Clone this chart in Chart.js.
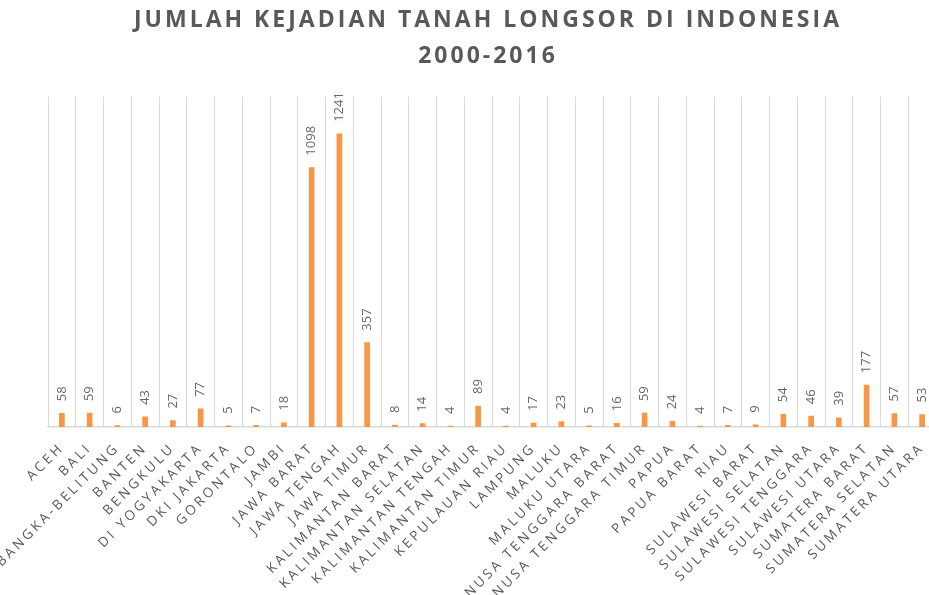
<!DOCTYPE html>
<html>
<head>
<meta charset="utf-8">
<script src="https://cdn.jsdelivr.net/npm/chart.js@4.4.0/dist/chart.umd.min.js"></script>
<style>
  html, body { margin: 0; padding: 0; background: #fff; overflow: hidden; }
  #wrap { width: 976px; height: 595px; }
</style>
</head>
<body>
<div id="wrap"><canvas id="myChart" width="976" height="595"></canvas></div>
<script>
// data
const provinces = ['ACEH', 'BALI', 'BANGKA-BELITUNG', 'BANTEN', 'BENGKULU', 'DI YOGYAKARTA', 'DKI JAKARTA',
  'GORONTALO', 'JAMBI', 'JAWA BARAT', 'JAWA TENGAH', 'JAWA TIMUR', 'KALIMANTAN BARAT', 'KALIMANTAN SELATAN',
  'KALIMANTAN TENGAH', 'KALIMANTAN TIMUR', 'KEPULAUAN RIAU', 'LAMPUNG', 'MALUKU', 'MALUKU UTARA',
  'NUSA TENGGARA BARAT', 'NUSA TENGGARA TIMUR', 'PAPUA', 'PAPUA BARAT', 'RIAU', 'SULAWESI BARAT',
  'SULAWESI SELATAN', 'SULAWESI TENGGARA', 'SULAWESI UTARA', 'SUMATERA BARAT', 'SUMATERA SELATAN', 'SUMATERA UTARA'];
const kejadian = [58, 59, 6, 43, 27, 77, 5, 7, 18, 1098, 1241, 357, 8, 14, 4, 89, 4, 17, 23, 5, 16, 59, 24, 4, 7, 9,
  54, 46, 39, 177, 57, 53];
const titleLines = ['JUMLAH KEJADIAN TANAH LONGSOR DI INDONESIA', '2000-2016'];

Chart.defaults.font.family = '"Open Sans", sans-serif';
Chart.defaults.color = '#595959';

// wide tracking like the original
const spacing = {
  id: 'spacing',
  beforeDraw(chart) {
    chart.ctx.letterSpacing = '3px';
  }
};

// value labels above each bar, turned upright
const barLabels = {
  id: 'barLabels',
  afterDatasetsDraw(chart) {
    const ctx = chart.ctx;
    const meta = chart.getDatasetMeta(0);
    ctx.save();
    ctx.letterSpacing = '0px';
    ctx.font = '13px "Open Sans"';
    ctx.fillStyle = '#666666';
    ctx.textAlign = 'left';
    ctx.textBaseline = 'middle';
    meta.data.forEach((bar, i) => {
      ctx.save();
      ctx.translate(bar.x, bar.y - 12);
      ctx.rotate(-Math.PI / 2);
      ctx.fillText(String(kejadian[i]), 0, 0);
      ctx.restore();
    });
    ctx.restore();
  }
};

const ctx = document.getElementById('myChart');
new Chart(ctx, {
  type: 'bar',
  data: {
    labels: provinces,
    datasets: [{
      label: 'Jumlah kejadian',
      data: kejadian,
      backgroundColor: '#F79646',
      barThickness: 5
    }]
  },
  options: {
    responsive: false,
    animation: false,
    plugins: {
      legend: { display: false },
      tooltip: { enabled: false },
      title: {
        display: true,
        text: titleLines,
        color: '#595959',
        font: { size: 23, weight: 'bold', lineHeight: 1.55 },
        padding: { top: 3, bottom: 22 }
      }
    },
    scales: {
      x: {
        grid: { color: '#d9d9d9', lineWidth: 1, drawTicks: false, offset: true },
        border: { color: '#d9d9d9', width: 1.5 },
        ticks: {
          autoSkip: false,
          minRotation: 45,
          maxRotation: 45,
          padding: 13,
          labelOffset: 0,
          color: '#595959',
          font: { size: 13.5 }
        },
        afterFit: s => { s.height = 168; }
      },
      y: {
        min: 0,
        max: 1400,
        ticks: { display: false },
        grid: { display: false },
        border: { display: false },
        afterFit: s => { s.width = 48; }
      },
      y2: {
        position: 'right',
        ticks: { display: false },
        grid: { display: false },
        border: { display: false },
        afterFit: s => { s.width = 40; }
      }
    }
  },
  plugins: [spacing, barLabels]
});
</script>
</body>
</html>
